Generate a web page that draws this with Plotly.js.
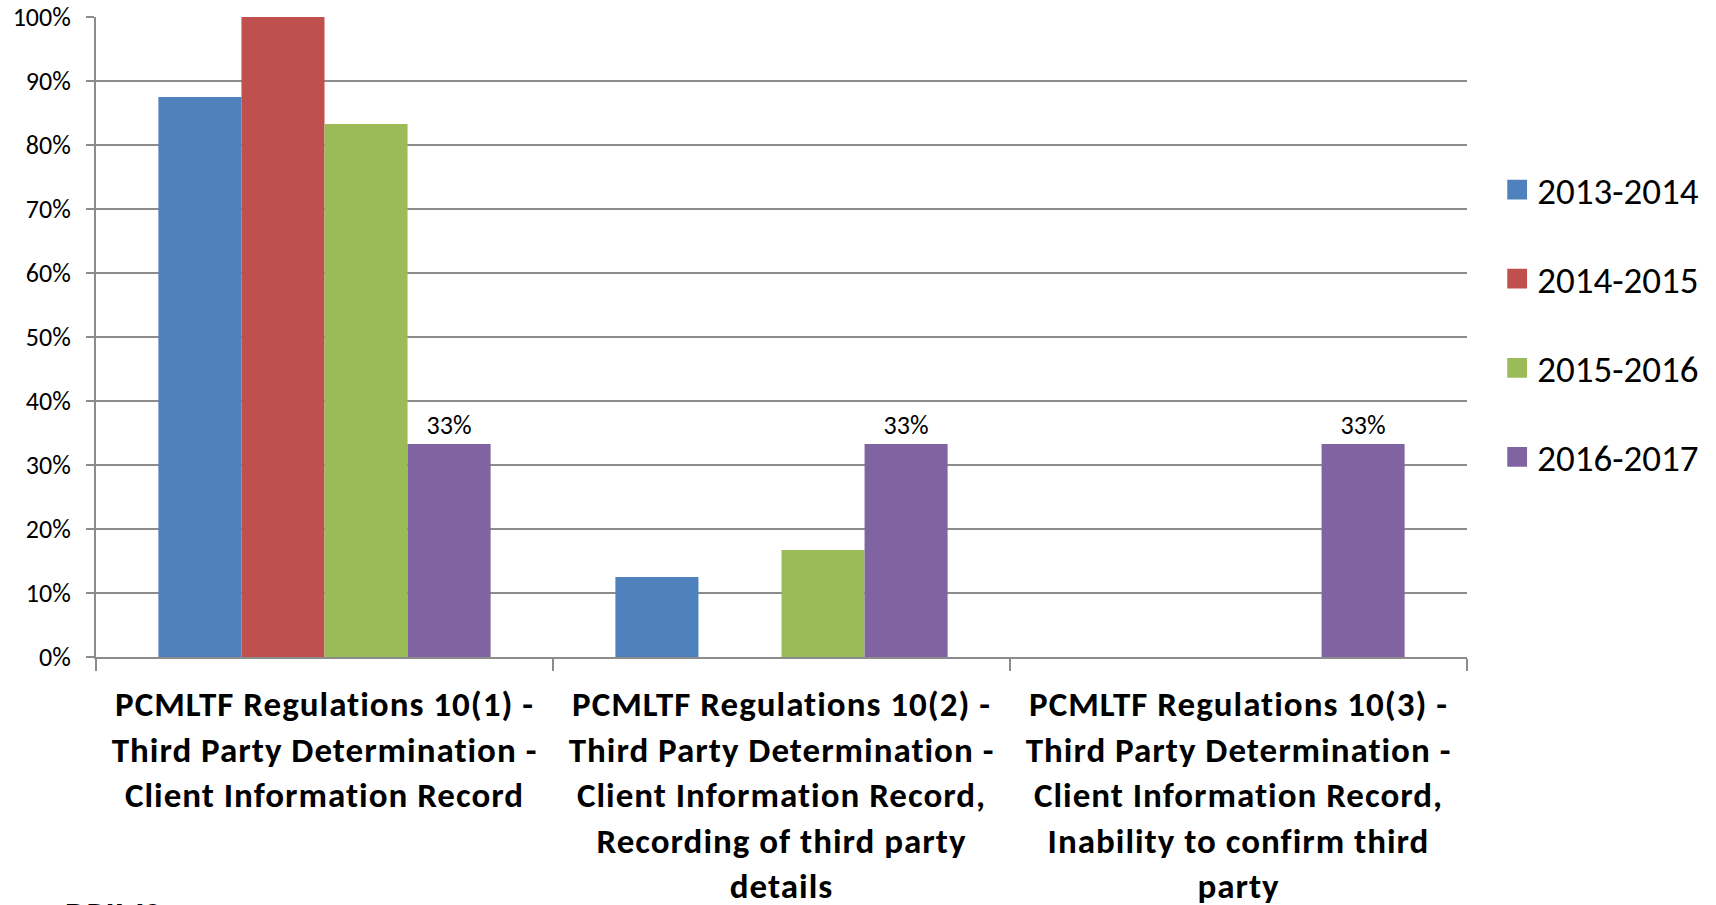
<!DOCTYPE html>
<html>
<head>
<meta charset="utf-8">
<script src="https://cdn.plot.ly/plotly-3.0.1.min.js"></script>
<style>
  html, body { margin: 0; padding: 0; background: #fff; }
  #grafico { width: 1716px; height: 905px; }
  /* Calibri não tem ligaduras "ti" */
  #grafico text {
      font-variant-ligatures: none !important;
      font-feature-settings: "liga" 0, "clig" 0 !important;
  }
  #grafico .xtick text { letter-spacing: 1px; }
  /* quadrados da legenda maiores, como no Excel */
  #grafico .legendpoints path { transform: translate(20px, 0px) scale(1.65); }
</style>
</head>
<body>
<div id="grafico"></div>
<script>
// Categorias (rótulos do eixo x, já quebrados em linhas)
const categorias = [
    'PCMLTF Regulations 10(1) -<br>Third Party Determination -<br>Client Information Record',
    'PCMLTF Regulations 10(2) -<br>Third Party Determination -<br>Client Information Record,<br>Recording of third party<br>details',
    'PCMLTF Regulations 10(3) -<br>Third Party Determination -<br>Client Information Record,<br>Inability to confirm third<br>party'
];

// Séries por ano fiscal
const anos = ['2013-2014', '2014-2015', '2015-2016', '2016-2017'];
const valores2013 = [0.875, 0.125, 0];
const valores2014 = [1.0, 0, 0];
const valores2015 = [0.833, 0.167, 0];
const valores2016 = [0.333, 0.333, 0.333];
const cores = ['#4F81BD', '#C0504D', '#9BBB59', '#8064A2'];

const fonte = 'Carlito, Roboto, "Open Sans", sans-serif';

const series = [valores2013, valores2014, valores2015, valores2016];

const traces = series.map((vals, i) => {
    const trace = {
        x: categorias,
        y: vals,
        type: 'bar',
        name: anos[i],
        legendgroup: anos[i],
        marker: { color: cores[i] },
        hoverinfo: 'name+y'
    };
    // Só a última série tem rótulos de dados
    if (i === 3) {
        trace.text = vals.map(v => Math.round(v * 100) + '%');
        trace.textposition = 'outside';
        trace.textfont = { family: fonte, size: 26, color: '#000' };
        trace.cliponaxis = false;
    }
    return trace;
});

const corGrade = '#8c8c8c';

const layout = {
    width: 1716,
    height: 905,
    margin: { l: 96, r: 249, t: 17, b: 248 },
    paper_bgcolor: '#fff',
    plot_bgcolor: '#fff',
    barmode: 'group',
    bargap: 0.273,
    bargroupgap: 0,
    font: { family: fonte, color: '#000' },
    xaxis: {
        type: 'category',
        tickson: 'boundaries',
        ticks: 'outside',
        ticklen: 12,
        tickwidth: 2,
        tickcolor: corGrade,
        showline: true,
        linecolor: corGrade,
        linewidth: 2,
        showgrid: false,
        tickangle: 0,
        ticklabelstandoff: 15,
        tickfont: { family: fonte, size: 35, color: '#000', weight: 'bold' }
    },
    yaxis: {
        range: [0, 1],
        dtick: 0.1,
        tickformat: '.0%',
        ticks: 'outside',
        ticklen: 8,
        tickwidth: 2,
        tickcolor: corGrade,
        showline: true,
        linecolor: corGrade,
        linewidth: 2,
        gridcolor: corGrade,
        gridwidth: 2,
        zeroline: false,
        ticklabelstandoff: 10,
        tickfont: { family: fonte, size: 26, color: '#000' }
    },
    showlegend: true,
    legend: {
        x: 1.022,
        xanchor: 'left',
        y: 0.521,
        yanchor: 'middle',
        traceorder: 'grouped',
        tracegroupgap: 38,
        font: { family: fonte, size: 37, color: '#000' },
        bgcolor: 'rgba(0,0,0,0)'
    },
    annotations: [{
        xref: 'paper', yref: 'paper',
        x: -0.024, y: -0.367,
        xanchor: 'left', yanchor: 'top',
        text: '<b>DRIMS</b>',
        showarrow: false,
        font: { family: fonte, size: 34, color: '#000' }
    }]
};

Plotly.newPlot('grafico', traces, layout, { displayModeBar: false, staticPlot: true });
</script>
</body>
</html>
